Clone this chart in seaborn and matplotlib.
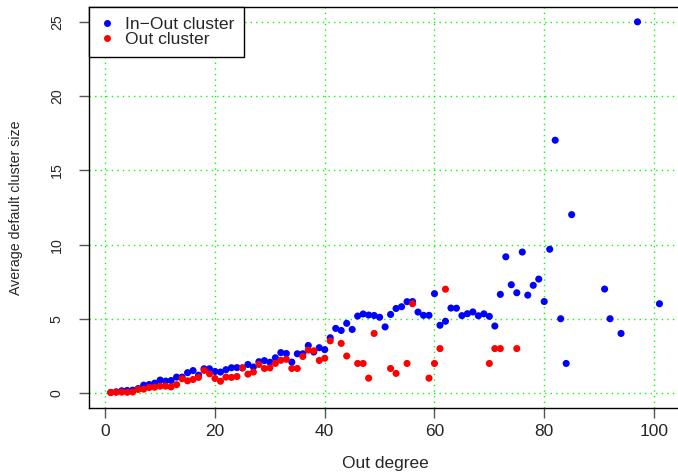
import numpy as np
import pandas as pd
import matplotlib
matplotlib.use("Agg")
import matplotlib.pyplot as plt
import seaborn as sns
from matplotlib.lines import Line2D

# ---- data ----
inout_deg = list(range(1, 86)) + [91, 92, 94, 97, 101]
inout_val = [0.05, 0.09, 0.16, 0.18, 0.20, 0.31, 0.54, 0.58, 0.67, 0.88,
             0.81, 0.85, 1.08, 1.08, 1.38, 1.52, 1.21, 1.64, 1.64, 1.46,
             1.42, 1.58, 1.71, 1.72, 1.70, 1.93, 1.76, 2.12, 2.19, 2.08,
             2.38, 2.73, 2.67, 2.09, 2.65, 2.65, 3.21, 2.77, 3.06, 2.93,
             3.73, 4.36, 4.22, 4.70, 4.29, 5.19, 5.33, 5.26, 5.23, 5.11,
             4.46, 5.30, 5.70, 5.82, 6.16, 6.17, 5.46, 5.24, 5.24, 6.70,
             4.57, 4.84, 5.73, 5.72, 5.22, 5.35, 5.47, 5.21, 5.34, 5.17,
             4.52, 6.65, 9.18, 7.30, 6.76, 9.50, 6.60, 7.26, 7.68, 6.17,
             9.69, 17.03, 5.01, 2.00, 12.02,
             7.01, 5.01, 4.02, 25.0, 6.02]

out_deg = list(range(1, 42)) + [43, 44, 46, 47, 48, 49, 52, 53, 55, 56,
                                59, 60, 61, 62, 70, 71, 72, 75]
out_val = [0.04, 0.06, 0.07, 0.06, 0.08, 0.25, 0.27, 0.38, 0.40, 0.47,
           0.47, 0.42, 0.57, 0.97, 0.83, 0.92, 1.06, 1.53, 1.30, 0.99,
           0.80, 1.08, 1.06, 1.12, 1.70, 1.28, 1.42, 1.93, 1.66, 1.70,
           2.00, 2.21, 2.28, 1.66, 1.66, 2.47, 2.90, 2.85, 2.20, 2.35,
           3.52, 3.35, 2.50, 2.00, 2.00, 1.01, 4.02, 1.66, 1.33, 2.00,
           6.02, 1.01, 2.00, 3.00, 7.00, 2.00, 3.00, 3.00, 3.00]

series_names = ["In\u2212Out cluster", "Out cluster"]
series_colors = ["#0000FF", "#FF0000"]
x_ticks = [0, 20, 40, 60, 80, 100]
y_ticks = [0, 5, 10, 15, 20, 25]

df = pd.DataFrame({
    "deg": inout_deg + out_deg,
    "val": inout_val + out_val,
    "series": [series_names[0]] * len(inout_deg) + [series_names[1]] * len(out_deg),
})

sns.set_style("ticks")
plt.rcParams["font.family"] = ["Liberation Sans", "DejaVu Sans"]
FS_H = 12.5   # horizontal texts
FS_V = 10.2   # rotated texts

fig = plt.figure(figsize=(6.78, 4.74), dpi=100)
ax = fig.add_axes([88.8 / 678, 1 - 408 / 474, (681.4 - 88.8) / 678, (408 - 7) / 474])

# grid
for xv in x_ticks:
    ax.axvline(xv, color="#00FF00", linestyle=(0, (1, 3)), lw=1.0, zorder=0)
for yv in y_ticks:
    ax.axhline(yv, color="#00FF00", linestyle=(0, (1, 3)), lw=1.0, zorder=0)

sns.scatterplot(data=df, x="deg", y="val", hue="series", hue_order=series_names,
                palette=dict(zip(series_names, series_colors)), s=26,
                linewidth=0, legend=False, ax=ax, zorder=3)

ax.set_xlim(-3, 105)
ax.set_ylim(-1, 26)
ax.set_xticks(x_ticks)
ax.set_yticks(y_ticks)
ax.set_xticklabels([str(v) for v in x_ticks], fontsize=FS_H)
ax.set_yticklabels([str(v) for v in y_ticks], fontsize=FS_V, rotation=90, va="center")
ax.tick_params(axis="x", direction="out", length=7, width=1, color="#555555", pad=4.5)
ax.tick_params(axis="y", direction="out", length=7, width=1, color="#555555", pad=11)
for sp in ax.spines.values():
    sp.set_color("black")
    sp.set_linewidth(1.0)

ax.set_xlabel("Out degree", fontsize=FS_H, labelpad=12.5)
ax.set_ylabel("Average default cluster size", fontsize=FS_V, labelpad=19)

handles = [Line2D([0], [0], marker="o", linestyle="none", markersize=5,
                  markerfacecolor=c, markeredgewidth=0, label=n)
           for n, c in zip(series_names, series_colors)]
leg = ax.legend(handles=handles, loc="upper left", borderaxespad=0, frameon=True,
                fancybox=False, fontsize=12.6, handlelength=1.0, handletextpad=0.5,
                labelspacing=0.0, borderpad=0.56)
leg.get_frame().set_edgecolor("black")
leg.get_frame().set_linewidth(1.0)
leg.get_frame().set_alpha(1)

fig.savefig("out.png", dpi=100)
